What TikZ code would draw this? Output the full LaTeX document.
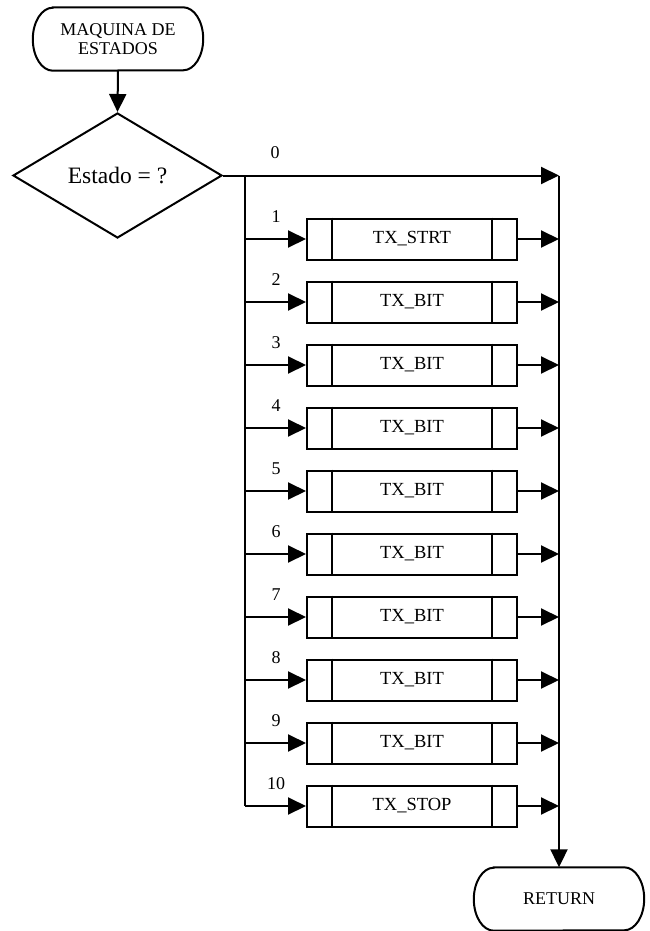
\documentclass[tikz,border=0pt]{standalone}
\usepackage{fontspec}
\setmainfont{Liberation Serif}
\usetikzlibrary{arrows.meta,shapes.geometric}

\tikzset{
  line/.style={line width=2pt, line join=miter},
  flow/.style={line, -{Triangle[length=18pt,width=17pt]}},
  terminal/.style={minimum width=170pt, minimum height=63pt, inner sep=0pt,
    align=center, font=\fontsize{18}{18.5}\selectfont},
  decision/.style={diamond, draw, line, inner sep=0pt, aspect=1.67,
    minimum width=209pt, minimum height=125pt, font=\fontsize{23.5}{25}\selectfont},
  procbox/.style={draw, line, minimum width=210pt, minimum height=41pt,
    inner sep=0pt, font=\fontsize{18.5}{19}\selectfont},
  caselabel/.style={font=\fontsize{18}{19}\selectfont, inner sep=0pt}
}

% outline of a terminal node with elliptical ends
\newcommand{\termoutline}[1]{%
  \draw[line] ([xshift=20pt]#1.north west) -- ([xshift=-20pt]#1.north east)
    arc[start angle=90, end angle=-90, x radius=20pt, y radius=31.5pt]
    -- ([xshift=20pt]#1.south west)
    arc[start angle=270, end angle=90, x radius=20pt, y radius=31.5pt] -- cycle;}

\begin{document}
\begin{tikzpicture}[x=1pt, y=1pt]
  \useasboundingbox (0,0) rectangle (650,-931);

  % start and decision
  \node[terminal] (start) at (118,-39) {MAQUINA DE\\ESTADOS};
  \termoutline{start}
  \node[decision] (sel) at (117.5,-175.5) {Estado = ?};
  \draw[flow] (start.south) -- (sel.north);

  % branch bus (left) and join bus (right)
  \coordinate (bl) at (245,-175.5);
  \coordinate (br) at (559,-175.5);
  \coordinate (bb) at (245,-806);

  % end
  \node[terminal] (ret) at (559,-899) {RETURN};
  \termoutline{ret}

  % case 0 goes straight to the join bus
  \draw[flow] (sel.east) -- (br);
  \node[caselabel] (l0) at (275,-153) {0};
  \draw[line] (bl) -- (bb);
  \draw[flow] (br) -- (ret.north);

  % cases 1..10: predefined process boxes
  \foreach \k/\txt in {1/TX\_STRT,2/TX\_BIT,3/TX\_BIT,4/TX\_BIT,5/TX\_BIT,
                        6/TX\_BIT,7/TX\_BIT,8/TX\_BIT,9/TX\_BIT,10/TX\_STOP}{
    \pgfmathsetmacro{\yc}{-239-63*(\k-1)}
    \node[procbox] (p\k) at (412,\yc) {\txt};
    \draw[line] ([xshift=26pt]p\k.north west) -- ([xshift=26pt]p\k.south west);
    \draw[line] ([xshift=-26pt]p\k.north east) -- ([xshift=-26pt]p\k.south east);
    \coordinate (in\k) at (245,\yc);
    \coordinate (out\k) at (559,\yc);
    \draw[flow] (in\k) -- (p\k.west);
    \draw[flow] (p\k.east) -- (out\k);
    \node[caselabel] (l\k) at (276,\yc+22) {\k};
  }
\end{tikzpicture}
\end{document}
